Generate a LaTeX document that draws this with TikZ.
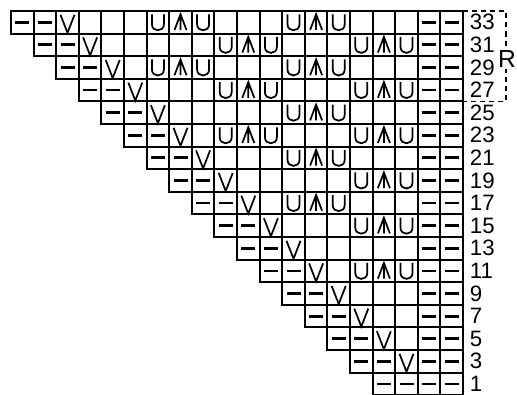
\documentclass[tikz,border=0pt]{standalone}
\usepackage{fontspec}
\setmainfont{Liberation Sans}
\usetikzlibrary{positioning}

\begin{document}
\begin{tikzpicture}[x=0.75pt, y=-0.75pt,
  cell/.style={draw, line width=1.4pt, minimum size=16.95pt, inner sep=0pt, outer sep=0pt, anchor=north west},
  rowno/.style={font=\fontsize{16.7}{16.7}\selectfont, inner sep=0pt},
  replabel/.style={font=\fontsize{18.5}{18.5}\selectfont, fill=white, inner sep=1pt},
  repeatbox/.style={line width=1.1pt, dash pattern=on 3.8pt off 3pt},
  stitch/.style={line width=1.3pt, line join=miter},
  purlbar/.style={line width=2.1pt},
  st-k/.pic={},
  st-p/.pic={\draw[purlbar] (-7,0) -- (7,0);},
  st-v/.pic={\draw[stitch] (-7,-7.5) -- (0,10.5) -- (7,-7.5);},
  st-o/.pic={\draw[stitch] (-6,-8) -- (-6,2) .. controls (-6,10) and (6,10) .. (6,2) -- (6,-8);},
  st-a/.pic={\draw[stitch] (-6,7.7) -- (0,-8) -- (6,7.7) (0,-8) -- (0,7.7);}
]
\useasboundingbox (0,0) rectangle (517,395);

% chart rows, top (33) to bottom (1); row i starts in column i
\foreach \rowno/\stitches [count=\i] in {
  33/{p,p,v,k,k,k,o,a,o,k,k,k,o,a,o,k,k,k,p,p},
  31/{p,p,v,k,k,k,k,k,o,a,o,k,k,k,o,a,o,p,p},
  29/{p,p,v,k,o,a,o,k,k,k,o,a,o,k,k,k,p,p},
  27/{p,p,v,k,k,k,o,a,o,k,k,k,o,a,o,p,p},
  25/{p,p,v,k,k,k,k,k,o,a,o,k,k,k,p,p},
  23/{p,p,v,k,o,a,o,k,k,k,o,a,o,p,p},
  21/{p,p,v,k,k,k,o,a,o,k,k,k,p,p},
  19/{p,p,v,k,k,k,k,k,o,a,o,p,p},
  17/{p,p,v,k,o,a,o,k,k,k,p,p},
  15/{p,p,v,k,k,k,o,a,o,p,p},
  13/{p,p,v,k,k,k,k,k,p,p},
  11/{p,p,v,k,o,a,o,p,p},
  9/{p,p,v,k,k,k,p,p},
  7/{p,p,v,k,k,p,p},
  5/{p,p,v,k,p,p},
  3/{p,p,v,p,p},
  1/{p,p,p,p}} {
  \foreach \c [count=\j from \i] in \stitches {
    \node[cell] (c\rowno-\j) at ({11+(\j-1)*22.6}, {11+(\i-1)*22.6}) {};
    \pic at (c\rowno-\j.center) {st-\c};
  }
  \node[rowno, right=5pt of c\rowno-20] (n\rowno) {\rowno};
}

% repeat bracket
\draw[repeatbox] (c33-20.north east) -- ++(43,0) |- (c27-20.south east);
\node[replabel] (rep) at (507,59.5) {R};
\end{tikzpicture}
\end{document}
